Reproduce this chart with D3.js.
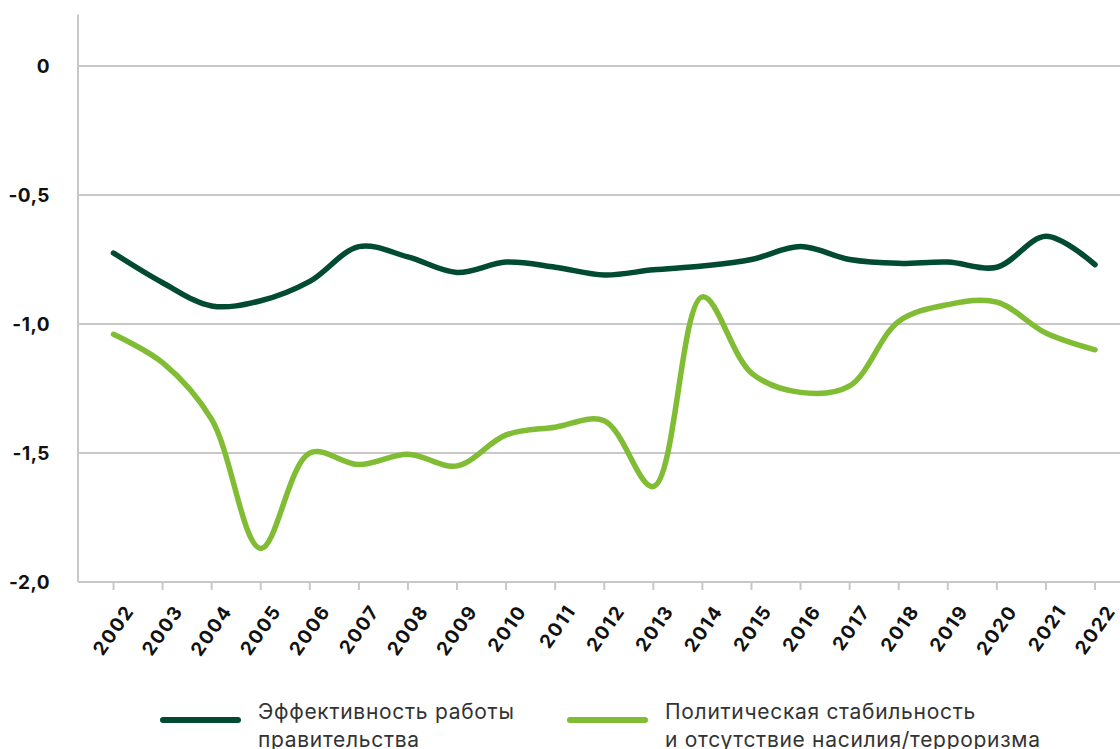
<!DOCTYPE html>
<html>
<head>
<meta charset="utf-8">
<script src="https://cdn.jsdelivr.net/npm/d3@7"></script>
<style>
  body { margin: 0; background: #fff; }
  svg { display: block; }
  .tick-y { font-family: Inter, "Noto Sans", sans-serif; font-weight: 700; font-size: 19px; fill: #111; letter-spacing: 0.5px; }
  .tick-x { font-family: Inter, "Noto Sans", sans-serif; font-weight: 700; font-size: 19px; fill: #111; letter-spacing: 1.6px; }
  .legend { font-family: Inter, "Noto Sans", sans-serif; font-size: 21px; fill: #333; letter-spacing: 0.7px; }
</style>
</head>
<body>
<svg width="1120" height="749"></svg>
<script>
const years = d3.range(2002, 2023);
const govEffectiveness = [-0.725, -0.84, -0.93, -0.91, -0.835, -0.70, -0.74, -0.80, -0.76, -0.78,
                          -0.81, -0.79, -0.775, -0.75, -0.70, -0.75, -0.765, -0.76, -0.78, -0.66, -0.77];
const politicalStability = [-1.04, -1.15, -1.37, -1.87, -1.50, -1.545, -1.505, -1.55, -1.43, -1.40,
                            -1.375, -1.63, -0.895, -1.19, -1.265, -1.24, -0.99, -0.925, -0.915, -1.035, -1.10];
const yTicks = [0, -0.5, -1.0, -1.5, -2.0];
const seriesNames = ['Эффективность работы\nправительства', 'Политическая стабильность\nи отсутствие насилия/терроризма'];
const seriesColors = ['#004b32', '#80bc34'];

const svg = d3.select('svg');
const x = d3.scaleLinear().domain([2002, 2022]).range([113.5, 1095]);
const y = d3.scaleLinear().domain([-2, 0.2]).range([582, 14.4]);

// gridlines
svg.append('g').selectAll('line').data(yTicks)
    .enter().append('line')
    .attr('x1', 78).attr('x2', 1120)
    .attr('y1', d => y(d)).attr('y2', d => y(d))
    .attr('stroke', '#c8c8c8').attr('stroke-width', 2);

// left axis line
svg.append('line')
    .attr('x1', 78).attr('x2', 78)
    .attr('y1', y(0.2)).attr('y2', y(-2))
    .attr('stroke', '#c8c8c8').attr('stroke-width', 2);

// y labels
svg.append('g').selectAll('text').data(yTicks)
    .enter().append('text')
    .attr('class', 'tick-y')
    .attr('x', 50).attr('y', d => y(d))
    .attr('dy', '0.35em')
    .attr('text-anchor', 'end')
    .text(d => d === 0 ? '0' : d3.format('.1f')(d).replace('.', ',').replace('−', '-'));

// x ticks
svg.append('g').selectAll('line').data(years)
    .enter().append('line')
    .attr('x1', d => x(d)).attr('x2', d => x(d))
    .attr('y1', 582).attr('y2', 590)
    .attr('stroke', '#c8c8c8').attr('stroke-width', 2);

svg.append('g').selectAll('text').data(years)
    .enter().append('text')
    .attr('class', 'tick-x')
    .attr('text-anchor', 'end')
    .attr('transform', d => `translate(${x(d) + 16}, 607) rotate(-55)`)
    .attr('dy', '0.35em')
    .text(d => d);

// lines
const line = d3.line()
    .x((d, i) => x(years[i]))
    .y(d => y(d))
    .curve(d3.curveCatmullRom.alpha(0.5));

[govEffectiveness, politicalStability].forEach((values, i) => {
    svg.append('path')
        .attr('d', line(values))
        .attr('fill', 'none')
        .attr('stroke', seriesColors[i])
        .attr('stroke-width', 5.5)
        .attr('stroke-linecap', 'round')
        .attr('stroke-linejoin', 'round');
});

// legend
const legendX = [163, 570];
seriesNames.forEach((name, i) => {
    const g = svg.append('g');
    g.append('line')
        .attr('x1', legendX[i]).attr('x2', legendX[i] + 75)
        .attr('y1', 720).attr('y2', 720)
        .attr('stroke', seriesColors[i]).attr('stroke-width', 6)
        .attr('stroke-linecap', 'round');
    const t = g.append('text').attr('class', 'legend')
        .attr('x', legendX[i] + 95).attr('y', 719);
    name.split('\n').forEach((s, j) => {
        t.append('tspan').attr('x', legendX[i] + 95).attr('dy', j === 0 ? 0 : 28).text(s);
    });
});
</script>
</body>
</html>
